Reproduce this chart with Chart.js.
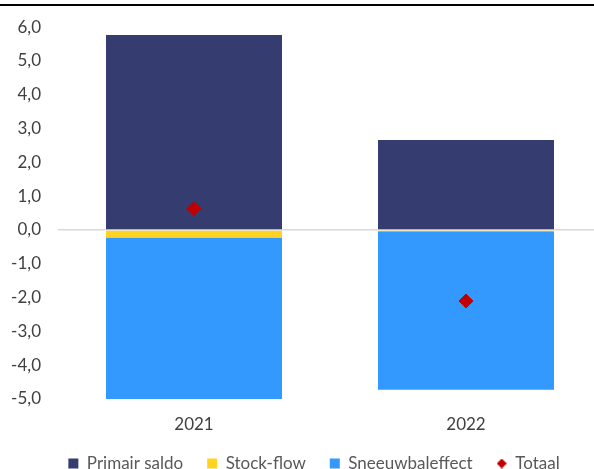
<!DOCTYPE html>
<html>
<head>
<meta charset="utf-8">
<script src="https://cdn.jsdelivr.net/npm/chart.js@4"></script>
<style>
  html, body { margin: 0; padding: 0; background: #fff; overflow: hidden; }
  #wrap { position: relative; width: 594px; height: 469px; overflow: hidden; }
  canvas { display: block; }
</style>
</head>
<body>
<div id="wrap"><canvas id="chart" width="610" height="469"></canvas></div>
<script>
// Data
var categories = ['2021', '2022'];
var primairSaldo = [5.77, 2.66];
var stockFlow = [-0.22, -0.04];
var sneeuwbaleffect = [-4.84, -4.69];
var totaal = [0.63, -2.10];
var yMin = -5;
var yMax = 6;

var colors = {
	primair: '#353c70',
	stock: '#ffd320',
	sneeuw: '#3399ff',
	totaal: '#c00000',
};

// Small diamond for the legend entry of Totaal
function diamondIcon( size, color ) {
	var c = document.createElement( 'canvas' );
	c.width = size;
	c.height = size;
	var g = c.getContext( '2d' );
	g.fillStyle = color;
	g.beginPath();
	g.moveTo( size / 2, 0 );
	g.lineTo( size, size / 2 );
	g.lineTo( size / 2, size );
	g.lineTo( 0, size / 2 );
	g.closePath();
	g.fill();
	return c;
}

// Thin black rule along the top of the picture
var topRule = {
	id: 'topRule',
	beforeDraw: function ( chart ) {
		var ctx = chart.ctx;
		ctx.save();
		ctx.fillStyle = '#000';
		ctx.fillRect( 0, 4, 594, 2 );
		ctx.restore();
	},
};

// Keep the legend band short, and place it under the visible part
var legendTweak = {
	id: 'legendTweak',
	afterInit: function ( chart ) {
		var fit = chart.legend.fit;
		chart.legend.fit = function () {
			fit.call( this );
			this.height = 19.6;
		};
	},
	afterLayout: function ( chart ) {
		chart.legend.top = 431;
		chart.legend.left += 9;
		chart.legend.right += 9;
	},
};

var legendIcon = diamondIcon( 10, colors.totaal );
var textFont = { family: 'Lato', size: 17 };

new Chart( document.getElementById( 'chart' ), {
	type: 'bar',
	data: {
		labels: categories,
		datasets: [
			{ label: 'Primair saldo', data: primairSaldo, backgroundColor: colors.primair, stack: 'bars', order: 2 },
			{ label: 'Stock-flow', data: stockFlow, backgroundColor: colors.stock, stack: 'bars', order: 2 },
			{ label: 'Sneeuwbaleffect', data: sneeuwbaleffect, backgroundColor: colors.sneeuw, stack: 'bars', order: 2 },
			{
				type: 'line',
				label: 'Totaal',
				data: totaal,
				stack: 'totaal',
				showLine: false,
				pointStyle: 'rectRot',
				pointRadius: 7,
				pointHoverRadius: 7,
				backgroundColor: colors.totaal,
				borderColor: colors.totaal,
				borderWidth: 1,
				order: 1,
			},
		],
	},
	options: {
		responsive: false,
		animation: false,
		devicePixelRatio: 1,
		datasets: {
			bar: { categoryPercentage: 1, barPercentage: 0.647 },
		},
		layout: { padding: { top: 18, left: 0, right: 0, bottom: 0 } },
		plugins: {
			tooltip: { enabled: false },
			legend: {
				position: 'bottom',
				labels: {
					font: textFont,
					color: '#595959',
					usePointStyle: true,
					boxWidth: 10,
					boxHeight: 10,
					padding: 24,
					generateLabels: function ( chart ) {
						return chart.data.datasets.map( function ( ds, i ) {
							return {
								text: ds.label,
								fillStyle: ds.backgroundColor,
								strokeStyle: ds.backgroundColor,
								lineWidth: 0,
								pointStyle: ds.type === 'line' ? legendIcon : 'rect',
								datasetIndex: i,
								fontColor: '#595959',
							};
						} );
					},
				},
			},
		},
		scales: {
			x: {
				stacked: true,
				grid: { display: false, drawTicks: false },
				border: { display: false },
				ticks: {
					font: textFont,
					color: '#404040',
					padding: 15,
				},
			},
			y: {
				stacked: true,
				min: yMin,
				max: yMax,
				border: { display: false },
				grid: {
					drawTicks: false,
					lineWidth: 1.5,
					color: function ( c ) {
						return c.tick && c.tick.value === 0 ? '#d9d9d9' : 'rgba(0,0,0,0)';
					},
				},
				ticks: {
					stepSize: 1,
					padding: 17,
					font: textFont,
					color: '#404040',
					callback: function ( v ) {
						return v.toFixed( 1 ).replace( '.', ',' );
					},
				},
				afterFit: function ( scale ) {
					scale.width = 58;
				},
			},
		},
	},
	plugins: [ topRule, legendTweak ],
} );
</script>
</body>
</html>
